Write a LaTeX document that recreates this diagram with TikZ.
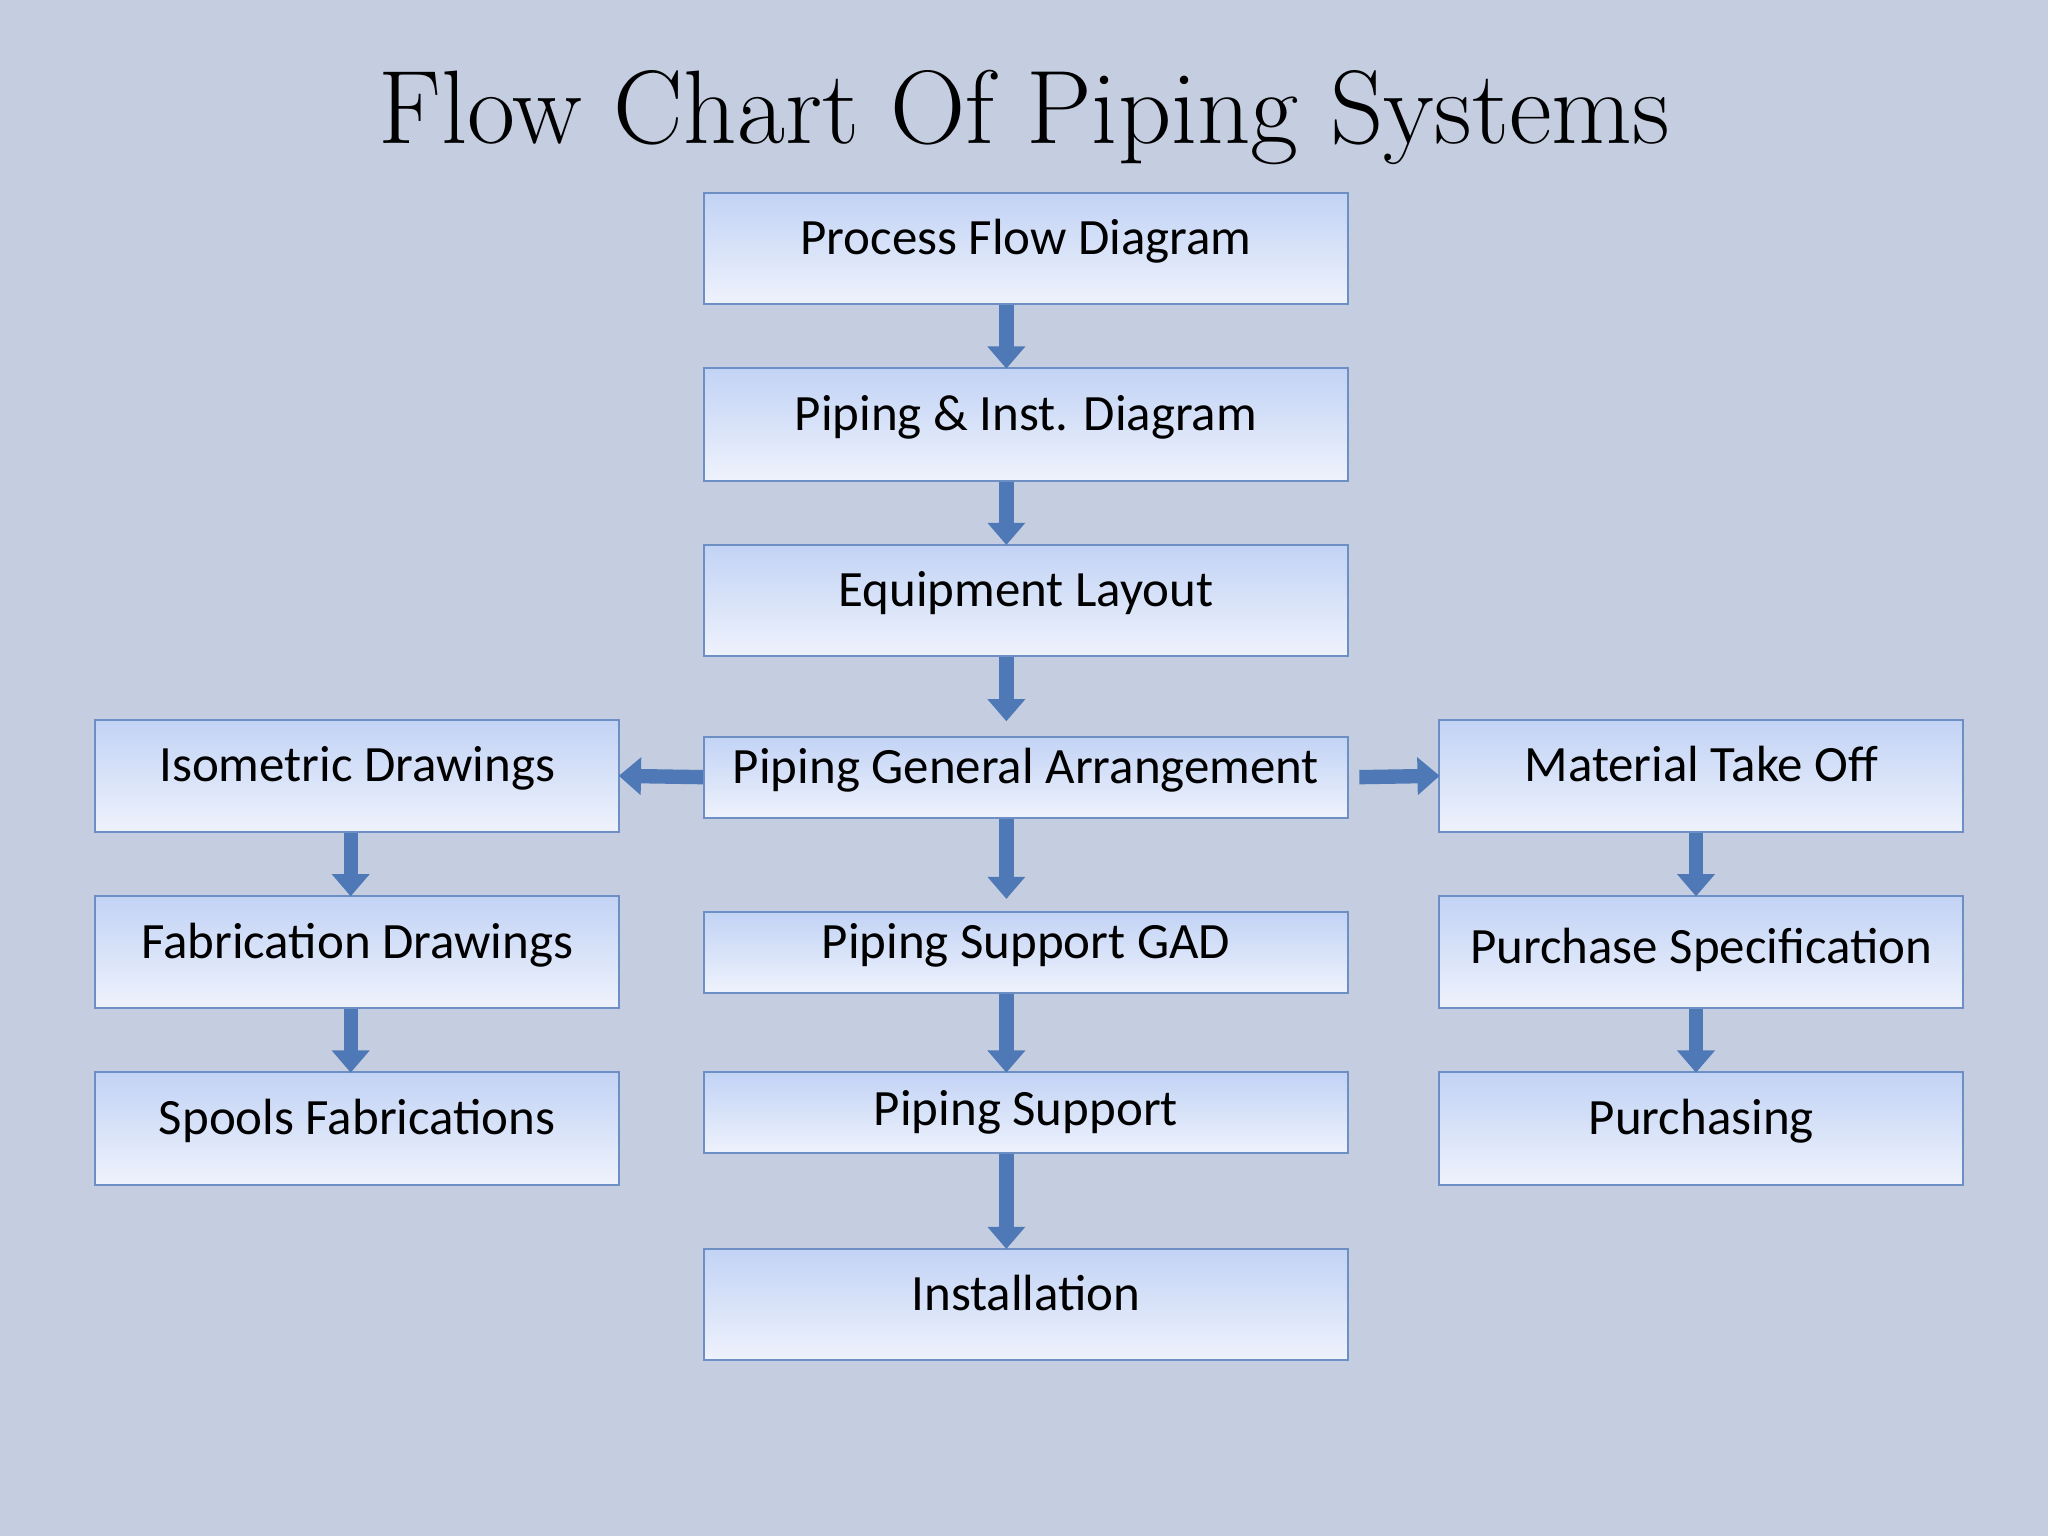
\documentclass[tikz,border=0pt]{standalone}
\usepackage{fontspec}
\setsansfont{Carlito}
\usetikzlibrary{arrows.meta}
\definecolor{bg}{HTML}{C4CEE0}
\definecolor{boxtop}{HTML}{C2D3F5}
\definecolor{boxbot}{HTML}{EEF2FC}
\definecolor{boxline}{HTML}{6E8FC4}
\definecolor{arr}{HTML}{4F79B6}
\definecolor{arrdark}{HTML}{3A5F96}
\tikzset{
  box/.style={draw=boxline, line width=1.5pt, top color=boxtop, bottom color=boxbot,
    minimum width=#1, inner sep=0pt, font=\sffamily\fontsize{39}{44}\selectfont, text=black},
  low/.style={text height=24pt, text depth=15pt},
  blk/.style={arr, line width=11pt, -{Triangle[width=28pt,length=17pt]}, shorten >=-1pt}
}
\begin{document}
\begin{tikzpicture}[x=1pt,y=-1pt]
\fill[bg] (0,0) rectangle (1568,1176);
\useasboundingbox (0,0) rectangle (1568,1176);
\node[font=\fontsize{80}{84}\selectfont] (title) at (784,90) {Flow Chart Of Piping Systems};
% center column
\node[box=493pt, low, minimum height=85pt] (pfd) at (785.5,190.5) {Process Flow Diagram};
\node[box=493pt, low, minimum height=86pt] (pid) at (785.5,325) {Piping \& Inst. Diagram};
\node[box=493pt, low, minimum height=85pt] (eq) at (785.5,459.5) {Equipment Layout};
\node[box=493pt, low, minimum height=62pt] (pga) at (785.5,595) {Piping General Arrangement};
\node[box=493pt, low, minimum height=62pt] (sgad) at (785.5,729) {Piping Support GAD};
\node[box=493pt, minimum height=62pt] (ps) at (785.5,852) {Piping Support};
\node[box=493pt, low, minimum height=85pt] (inst) at (785.5,998.5) {Installation};
% left column
\node[box=401pt, low, minimum height=86pt] (iso) at (273.5,594) {Isometric Drawings};
\node[box=401pt, low, minimum height=86pt] (fab) at (273.5,729) {Fabrication Drawings};
\node[box=401pt, low, minimum height=86pt] (spo) at (273.5,864) {Spools Fabrications};
% right column
\node[box=401pt, low, minimum height=86pt] (mto) at (1302.5,594) {Material Take Off};
\node[box=401pt, minimum height=86pt] (pspec) at (1302.5,729) {\raisebox{9pt}{Purchase Specification}};
\node[box=401pt, low, minimum height=86pt] (pur) at (1302.5,864) {Purchasing};
% arrows
\draw[blk] ([xshift=-15pt]pfd.south) -- ([xshift=-15pt]pid.north);
\draw[blk] ([xshift=-15pt]pid.south) -- ([xshift=-15pt]eq.north);
\draw[blk] ([xshift=-15pt]eq.south) -- ([xshift=-15pt,yshift=12pt]pga.north);
\draw[blk] ([xshift=-15pt]pga.south) -- ([xshift=-15pt,yshift=10pt]sgad.north);
\draw[blk] ([xshift=-15pt]sgad.south) -- ([xshift=-15pt]ps.north);
\draw[blk] ([xshift=-15pt]ps.south) -- ([xshift=-15pt]inst.north);
\draw[blk] ([xshift=-5pt]iso.south) -- ([xshift=-5pt]fab.north);
\draw[blk] ([xshift=-5pt]fab.south) -- ([xshift=-5pt]spo.north);
\draw[blk] ([xshift=-4pt]mto.south) -- ([xshift=-4pt]pspec.north);
\draw[blk] ([xshift=-4pt]pspec.south) -- ([xshift=-4pt]pur.north);
\draw[blk] (pga.west) -- (iso.east);
\draw[blk] ([xshift=8pt]pga.east) -- (mto.west);
\end{tikzpicture}
\end{document}
